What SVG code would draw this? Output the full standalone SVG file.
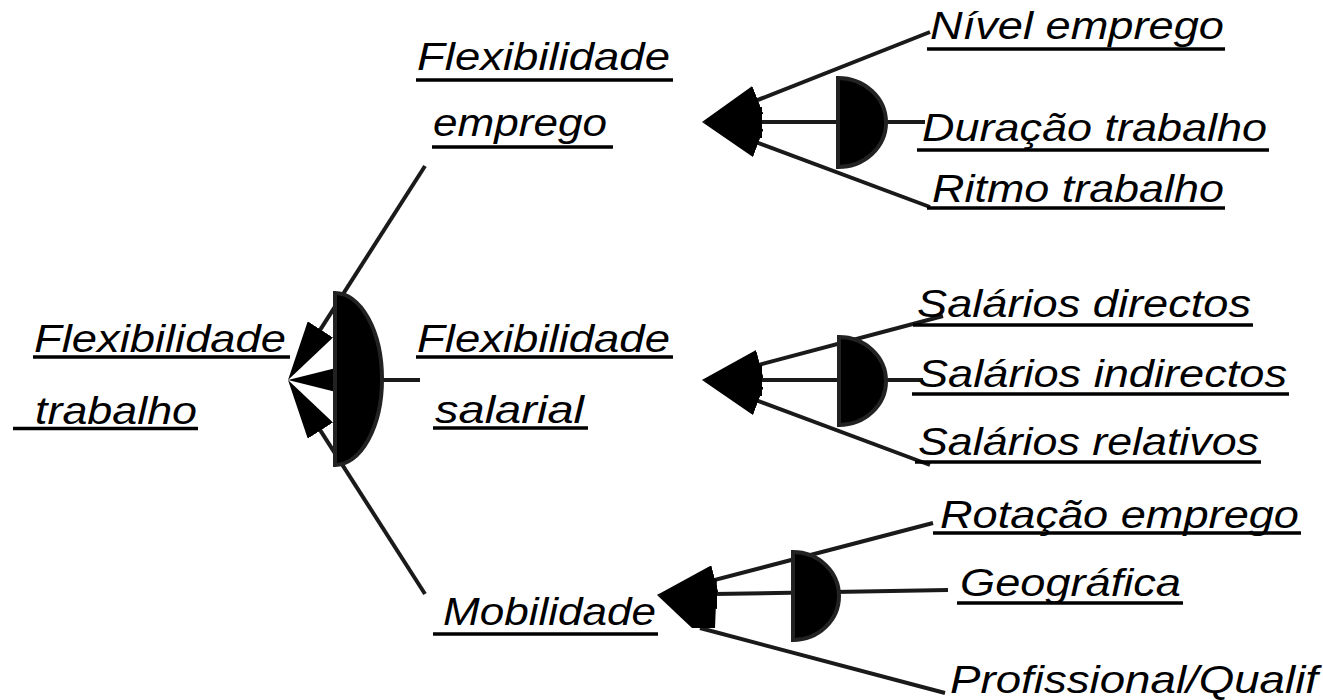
<svg xmlns="http://www.w3.org/2000/svg" width="1323" height="700" viewBox="0 0 1323 700">
  <style>
    .t { font-family: "Liberation Sans", Arial, sans-serif; font-style: italic; font-size: 38px; fill: #000; }
    .u { stroke: #000; stroke-width: 3.5; }
    .c { stroke: #1a1a1a; stroke-width: 4; fill: none; marker-end: url(#arr); }
    .g { fill: #000; stroke: #222; stroke-width: 4; }
  </style>
  <defs>
    <marker id="arr" markerUnits="userSpaceOnUse" viewBox="0 0 60 30" refX="20" refY="15" markerWidth="60" markerHeight="30" orient="auto">
      <path d="M0,0 L60,15 L0,30 Z" fill="#000"/>
    </marker>
  </defs>
  <rect width="1323" height="700" fill="#fff"/>

  <g id="connectors">
    <!-- root gate inputs -->
    <line class="c" x1="425" y1="166" x2="309.6" y2="346.3"/>
    <line class="c" x1="420" y1="380" x2="328" y2="380"/>
    <line class="c" x1="425" y1="594" x2="309.6" y2="413.7"/>
    <!-- flexibilidade emprego -->
    <line class="c" x1="930" y1="32" x2="739.2" y2="107.3"/>
    <line class="c" x1="925" y1="122" x2="742" y2="122"/>
    <line class="c" x1="930" y1="207" x2="739.5" y2="136"/>
    <rect x="748" y="107" width="14" height="31" fill="#000"/>
    <!-- flexibilidade salarial -->
    <line class="c" x1="943" y1="316" x2="740.6" y2="369.7"/>
    <line class="c" x1="923" y1="380" x2="742" y2="380"/>
    <line class="c" x1="930" y1="465" x2="739.5" y2="394"/>
    <rect x="748" y="365" width="14" height="31" fill="#000"/>
    <!-- mobilidade -->
    <line class="c" x1="933" y1="523" x2="695.7" y2="584.9"/>
    <line class="c" x1="948" y1="590" x2="697" y2="594.3"/>
    <line x1="945" y1="693" x2="700" y2="628" stroke="#1a1a1a" stroke-width="4"/>
    <polygon points="657,595 692,628 715,628 716,603" fill="#000"/>
  </g>

  <g id="gate-trabalho"><path class="g" d="M335,293 A47,86 0 0 1 335,465 Z"/></g>
  <g id="gate-emprego"><path class="g" d="M838,78 A48,44.5 0 0 1 838,167 Z"/></g>
  <g id="gate-salarial"><path class="g" d="M839,337 A47,44 0 0 1 839,425 Z"/></g>
  <g id="gate-mobilidade"><path class="g" d="M793,552 A46,44 0 0 1 793,640 Z"/></g>

  <g id="n-flex-trabalho">
    <text class="t" x="34" y="352" textLength="252" lengthAdjust="spacingAndGlyphs">Flexibilidade</text>
    <line class="u" x1="33" y1="357" x2="290" y2="357"/>
    <text class="t" x="35" y="424" textLength="162" lengthAdjust="spacingAndGlyphs">trabalho</text>
    <line class="u" x1="13" y1="428.5" x2="198" y2="428.5"/>
  </g>
  <g id="n-flex-emprego">
    <text class="t" x="417" y="70" textLength="253" lengthAdjust="spacingAndGlyphs">Flexibilidade</text>
    <line class="u" x1="416" y1="80" x2="673" y2="80"/>
    <text class="t" x="433" y="136" textLength="174" lengthAdjust="spacingAndGlyphs">emprego</text>
    <line class="u" x1="432" y1="147" x2="613" y2="147"/>
  </g>
  <g id="n-flex-salarial">
    <text class="t" x="417" y="352" textLength="253" lengthAdjust="spacingAndGlyphs">Flexibilidade</text>
    <line class="u" x1="416" y1="357" x2="673" y2="357"/>
    <text class="t" x="435" y="423" textLength="149" lengthAdjust="spacingAndGlyphs">salarial</text>
    <line class="u" x1="433" y1="428" x2="588" y2="428"/>
  </g>
  <g id="n-mobilidade">
    <text class="t" x="443" y="625" textLength="213" lengthAdjust="spacingAndGlyphs">Mobilidade</text>
    <line class="u" x1="433" y1="634" x2="658" y2="634"/>
  </g>
  <g id="n-nivel-emprego">
    <text class="t" x="930" y="39" textLength="294" lengthAdjust="spacingAndGlyphs">Nível emprego</text>
    <line class="u" x1="927" y1="49" x2="1225" y2="49"/>
  </g>
  <g id="n-duracao-trabalho">
    <text class="t" x="922" y="141" textLength="345" lengthAdjust="spacingAndGlyphs">Duração trabalho</text>
    <line class="u" x1="917" y1="150" x2="1269" y2="150"/>
  </g>
  <g id="n-ritmo-trabalho">
    <text class="t" x="932" y="202" textLength="292" lengthAdjust="spacingAndGlyphs">Ritmo trabalho</text>
    <line class="u" x1="927" y1="208" x2="1225" y2="208"/>
  </g>
  <g id="n-salarios-directos">
    <text class="t" x="917" y="317" textLength="334" lengthAdjust="spacingAndGlyphs">Salários directos</text>
    <line class="u" x1="913" y1="325" x2="1253" y2="325"/>
  </g>
  <g id="n-salarios-indirectos">
    <text class="t" x="918" y="387" textLength="369" lengthAdjust="spacingAndGlyphs">Salários indirectos</text>
    <line class="u" x1="912" y1="394" x2="1289" y2="394"/>
  </g>
  <g id="n-salarios-relativos">
    <text class="t" x="918" y="455" textLength="341" lengthAdjust="spacingAndGlyphs">Salários relativos</text>
    <line class="u" x1="915" y1="462" x2="1261" y2="462"/>
  </g>
  <g id="n-rotacao-emprego">
    <text class="t" x="940" y="528" textLength="359" lengthAdjust="spacingAndGlyphs">Rotação emprego</text>
    <line class="u" x1="933" y1="533" x2="1301" y2="533"/>
  </g>
  <g id="n-geografica">
    <text class="t" x="960" y="596" textLength="221" lengthAdjust="spacingAndGlyphs">Geográfica</text>
    <line class="u" x1="957" y1="603" x2="1183" y2="603"/>
  </g>
  <g id="n-profissional">
    <text class="t" x="950" y="693" textLength="368" lengthAdjust="spacingAndGlyphs">Profissional/Qualif</text>
  </g>
</svg>
